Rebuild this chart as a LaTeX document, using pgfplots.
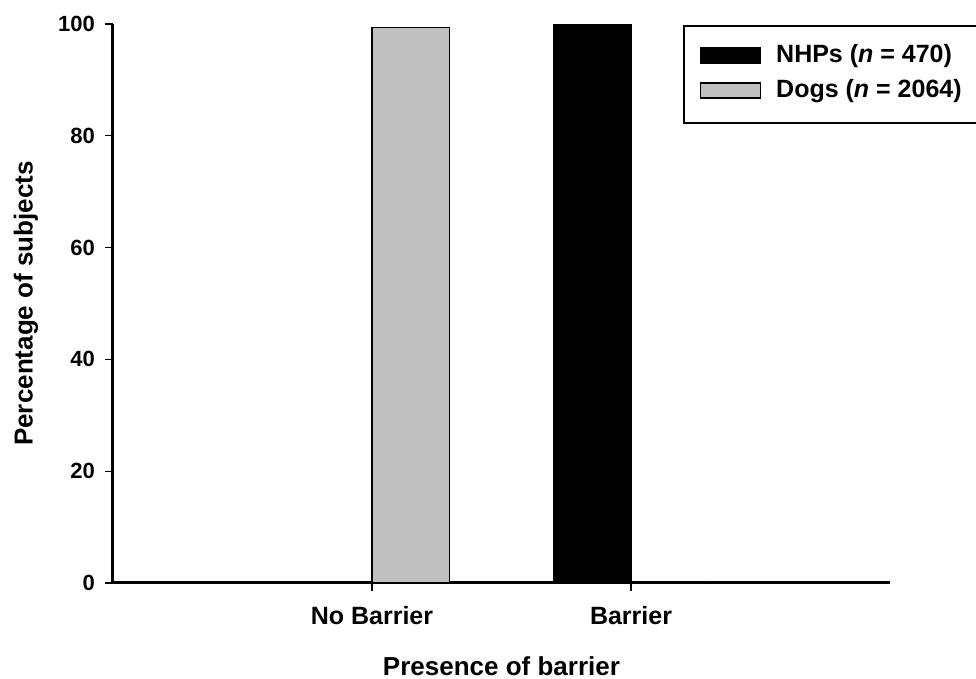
\documentclass[border=0pt]{standalone}
\usepackage{pgfplots}
\pgfplotsset{compat=1.18}
\usepackage{fontspec}
\setmainfont{Liberation Sans}
\definecolor{doggray}{RGB}{192,192,192}
\pgfplotsset{swatch/.style={legend image code/.code={\draw[##1] (0pt,-3pt) rectangle (30pt,4.5pt);}}}

\begin{document}
\begin{tikzpicture}
\begin{axis}[
    at={(0pt,0pt)}, anchor=south west,
    scale only axis, width=388.5pt, height=279.5pt,
    xmin=-1, xmax=2, ymin=0, ymax=100,
    axis x line*=bottom, axis y line*=left,
    axis line style={-, line width=1.5pt},
    xtick={0,1}, xticklabels={No Barrier, Barrier},
    ytick={0,20,40,60,80,100},
    tick align=outside, major tick length=4pt,
    tick style={line width=0.6pt, black},
    /pgf/number format/assume math mode=true,
    yticklabel style={font=\bfseries\fontsize{11}{13}\selectfont, xshift=-1.5pt},
    xticklabel style={font=\bfseries\fontsize{12.5}{15}\selectfont, yshift=-4pt},
    ylabel={Percentage of subjects},
    ylabel style={font=\bfseries\fontsize{13}{15}\selectfont, at={(axis cs:-1.336,50)}, anchor=center},
    xlabel={Presence of barrier},
    xlabel style={font=\bfseries\fontsize{13}{15}\selectfont, at={(rel axis cs:0.5,0)}, anchor=center, yshift=-41.5pt},
    legend style={at={(rel axis cs:0.7336,0.998)}, anchor=north west,
        draw=black, line width=0.8pt, fill=white,
        inner xsep=8pt, inner ysep=9.5pt, row sep=5.5pt, column sep=7.5pt,
        font=\bfseries\fontsize{12.5}{15}\selectfont,
        nodes={inner sep=0pt, text height=9pt, text depth=3pt}},
    legend cell align=left,
]
\addplot[ybar, bar width=0.3, bar shift=-0.15, fill=black, draw=black, line width=0.7pt, swatch]
    coordinates {(0,0) (1,99.8)};
\addplot[ybar, bar width=0.3, bar shift=0.15, fill=doggray, draw=black, line width=0.7pt, swatch]
    coordinates {(0,99.4) (1,0)};
\legend{NHPs (\textit{n} = 470), Dogs (\textit{n} = 2064)}
\end{axis}
\pgfresetboundingbox
\path[use as bounding box] (-56.5pt,-48pt) rectangle (431.5pt,291.5pt);
\end{tikzpicture}
\end{document}
